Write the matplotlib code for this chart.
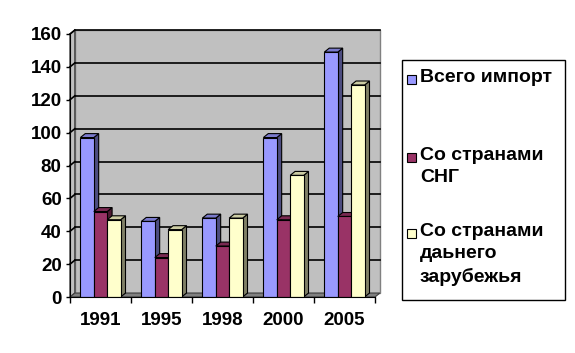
import matplotlib
matplotlib.use('Agg')
import matplotlib.pyplot as plt
from matplotlib.patches import Polygon, Rectangle
import numpy as np

plt.rcParams['font.family'] = ['Liberation Sans', 'DejaVu Sans']
plt.rcParams['font.weight'] = 'bold'

years = ['1991', '1995', '1998', '2000', '2005']
total_import = [97, 46, 48, 97, 149]
cis_import = [52, 24, 31, 47, 49]
far_import = [47, 41, 48, 74, 129]
series_names = ['Всего импорт', 'Со странами\nСНГ', 'Со странами\nдаьнего\nзарубежья']
yticks = [0, 20, 40, 60, 80, 100, 120, 140, 160]

front_cols = ['#9999FF', '#993366', '#FFFFCC']
top_cols = ['#7A7ACC', '#7A2952', '#CCCCA3']
side_cols = ['#4D4D80', '#4D1A33', '#808066']

fig = plt.figure(figsize=(5.75, 3.53), dpi=100)
ax = fig.add_axes([70 / 575, 56 / 353, 305 / 575, 263 / 353])
ax.set_xlim(0, len(years))
ax.set_ylim(0, 160)
ax.patch.set_visible(False)

# depth of the fake 3d box (data units)
dx, dy = 0.08, 2.4
n = len(years)

# walls and floor
ax.add_patch(Rectangle((dx, dy), n, 160, facecolor='#C0C0C0', edgecolor='#808080',
                       lw=1, zorder=0, clip_on=False))
ax.add_patch(Polygon([(0, 0), (dx, dy), (dx, 160 + dy), (0, 160)], closed=True,
                     facecolor='#C0C0C0', edgecolor='#404040', lw=1, zorder=0.5, clip_on=False))
ax.add_patch(Polygon([(0, 0), (n, 0), (n + dx, dy), (dx, dy)], closed=True,
                     facecolor='#808080', edgecolor='#404040', lw=0.8, zorder=0.5, clip_on=False))
for v in yticks[1:]:
    ax.plot([dx, n + dx], [v + dy, v + dy], color='black', lw=1.2, zorder=1, clip_on=False)
    ax.plot([0, dx], [v, v + dy], color='black', lw=1.2, zorder=1, clip_on=False)

# bars
w = 0.22
x = np.arange(n) + 0.5
z = 2
for k, vals in enumerate([total_import, cis_import, far_import]):
    xs = x + (k - 1) * w
    ax.bar(xs, vals, width=w, color=front_cols[k], edgecolor='black', lw=0.8, zorder=z + 2)
    for xc, v in zip(xs, vals):
        x0, x1 = xc - w / 2, xc + w / 2
        ax.add_patch(Polygon([(x1, 0), (x1 + dx, dy), (x1 + dx, v + dy), (x1, v)], closed=True,
                             facecolor=side_cols[k], edgecolor='black', lw=0.8, zorder=z))
        ax.add_patch(Polygon([(x0, v), (x0 + dx, v + dy), (x1 + dx, v + dy), (x1, v)], closed=True,
                             facecolor=top_cols[k], edgecolor='black', lw=0.8, zorder=z + 1))
    z += 3

# axes
for s in ['top', 'right']:
    ax.spines[s].set_visible(False)
ax.spines['left'].set_color('black')
ax.spines['bottom'].set_color('black')
ax.spines['left'].set_zorder(20)
ax.spines['bottom'].set_zorder(20)
ax.set_yticks(yticks)
ax.set_yticklabels([str(t) for t in yticks], fontsize=13.5, fontweight='bold')
ax.tick_params(axis='y', direction='out', length=3, width=1, pad=3)
ax.set_xticks(np.arange(n + 1))
ax.set_xticklabels([])
ax.tick_params(axis='x', which='major', direction='out', length=4, width=1)
ax.set_xticks(x, minor=True)
ax.set_xticklabels(years, minor=True, fontsize=13.5, fontweight='bold')
ax.tick_params(axis='x', which='minor', length=0, pad=11)

# legend box
fig.patches.append(Rectangle((402 / 575, 1 - 300 / 353), 163 / 575, 240 / 353,
                             transform=fig.transFigure, facecolor='white',
                             edgecolor='black', lw=1))
entry_y = [79, 157, 233]
for k, name in enumerate(series_names):
    yc = entry_y[k]
    fig.patches.append(Rectangle((407 / 575, 1 - (yc + 4.5) / 353), 9 / 575, 9 / 353,
                                 transform=fig.transFigure, facecolor=front_cols[k],
                                 edgecolor='black', lw=0.8))
    fig.text(420 / 575, 1 - (yc - 10) / 353, name, fontsize=14, fontweight='bold',
             va='top', ha='left', linespacing=1.4)

fig.savefig('out.png', dpi=100)
